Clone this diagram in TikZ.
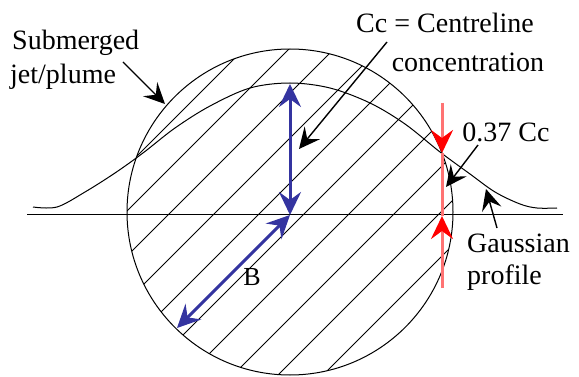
\documentclass[tikz,border=0pt]{standalone}
\usepackage{fontspec}
\setmainfont{Liberation Serif}
\usetikzlibrary{arrows.meta}
\definecolor{jetblue}{RGB}{52,52,160}
\definecolor{redline}{RGB}{255,115,115}
\begin{document}
\begin{tikzpicture}[x=1pt,y=-1pt,
  lbl/.style={font=\fontsize{28}{34}\selectfont, inner sep=0pt},
  thinline/.style={line width=1pt, black},
  callout/.style={line width=1.4pt, black, -{Stealth[length=21pt,width=20pt,inset=8pt]}},
  bluearrow/.style={line width=3pt, jetblue, {Stealth[length=23pt,width=22pt,inset=8pt]}-{Stealth[length=23pt,width=22pt,inset=8pt]}},
  redarrow/.style={line width=3pt, redline, -{Stealth[length=23pt,width=22pt,inset=8pt,color=red]}}
]
\useasboundingbox (0,0) rectangle (579,377);
\fill[white] (0,0) rectangle (579,377);

% circle and hatching
\coordinate (c) at (290,212);
\begin{scope}
  \clip (c) circle[radius=163pt];
  \foreach \k in {-1,...,8} {
    \draw[thinline] ({123+45*\k-300},{215+300}) -- ({123+45*\k+300},{215-300});
  }
\end{scope}
\draw[thinline] (c) circle[radius=163pt];

% horizontal axis
\draw[thinline] (27,215) -- (563,215);

% Gaussian profile
\draw[thinline] plot[smooth, tension=0.55] coordinates {
  (33,207) (57,207) (85,192) (115,173) (143,153) (175,128) (210,106) (250,88) (290,83)
  (330,88) (370,103) (405,124) (440,152) (470,174) (495,192) (520,204) (537,208) (557,208)};

% labels
\node[lbl, anchor=west] (sub) at (12,43) {Submerged};
\node[lbl, anchor=west] (jet) at (10,77) {jet/plume};
\node[lbl] (cc1) at (445,23) {Cc = Centreline};
\node[lbl] (cc2) at (468,62) {concentration};
\node[lbl] (p37) at (506,132) {0.37 Cc};
\node[lbl, anchor=west] (gau) at (467,243) {Gaussian};
\node[lbl, anchor=west] (prof) at (467,278) {profile};
\node[lbl, font=\fontsize{26}{30}\selectfont] (B) at (252,277) {B};

% callout arrows
\coordinate (subtail) at (123,62);  \coordinate (subtip) at (165,104);
\coordinate (cctail) at (387,42);   \coordinate (cctip) at (299,149);
\coordinate (ptail) at (478,145);   \coordinate (ptip) at (446,187);
\coordinate (gtail) at (497,228);   \coordinate (gtip) at (486,189);
\draw[callout] (subtail) -- (subtip);
\draw[callout] (cctail) -- (cctip);
\draw[callout] (ptail) -- (ptip);
\draw[callout] (gtail) -- (gtip);

% blue dimension arrows
\coordinate (o) at (290,215);
\coordinate (top) at (290,84);
\coordinate (bl) at (177,328);
\draw[bluearrow] (o) -- (top);
\draw[bluearrow] (o) -- (bl);

% red arrows
\coordinate (rtop) at (442,103);  \coordinate (rtip1) at (442,153);
\coordinate (rbot) at (442,288);  \coordinate (rtip2) at (442,216);
\draw[line width=3pt, redline] (rtip1) -- (rtip2);
\draw[redarrow] (rtop) -- (rtip1);
\draw[redarrow] (rbot) -- (rtip2);
\end{tikzpicture}
\end{document}
